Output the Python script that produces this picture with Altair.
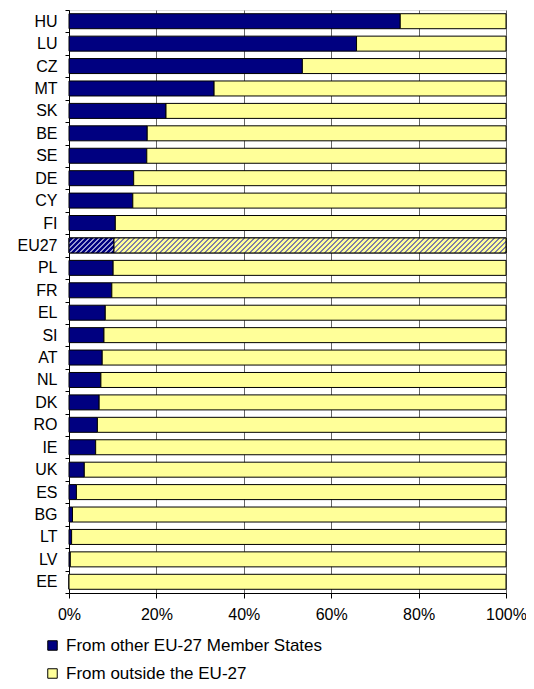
import altair as alt
import pandas as pd

countries = ["HU", "LU", "CZ", "MT", "SK", "BE", "SE", "DE", "CY", "FI", "EU27", "PL", "FR",
             "EL", "SI", "AT", "NL", "DK", "RO", "IE", "UK", "ES", "BG", "LT", "LV", "EE"]
from_eu = [75.8, 65.8, 53.4, 33.2, 22.2, 17.9, 17.8, 14.8, 14.6, 10.6, 10.3, 10.1, 9.8,
           8.3, 8.0, 7.6, 7.3, 6.9, 6.5, 6.1, 3.5, 1.7, 0.8, 0.6, 0.3, 0.0]
series = ["From other EU-27 Member States", "From outside the EU-27"]
colors = ["#000080", "#FFFF99"]
tick_values = [0, 20, 40, 60, 80, 100]
highlight = "EU27"

W, H, BAR = 437, 583, 15
FONT = "Liberation Sans"

rows = []
for c, v in zip(countries, from_eu):
    rows.append({"country": c, "series": series[0], "order": 0, "start": 0.0, "end": v})
    rows.append({"country": c, "series": series[1], "order": 1, "start": v, "end": 100.0})
df = pd.DataFrame(rows)


def hatch(width, height, bg, line, period=5.0, lw=2.0):
    total = width + height
    k = total / (width ** 2 + height ** 2)
    stops = []
    s = 0.0
    while s < total:
        a = s / total
        b = min((s + lw) / total, 1.0)
        c = min((s + period) / total, 1.0)
        stops += [(a, line), (b, line), (b, bg), (c, bg)]
        s += period
    return alt.LinearGradient(
        gradient="linear",
        stops=[alt.GradientStop(offset=o, color=col) for o, col in stops],
        x1=0, y1=0, x2=k * width, y2=k * height,
    )


eu_val = from_eu[countries.index(highlight)]
grad_blue = hatch(eu_val / 100 * W, BAR, colors[0], "#9a9ad0")
grad_yel = hatch((100 - eu_val) / 100 * W, BAR, colors[1], "#8080a8")

yscale = alt.Scale(domain=countries, paddingInner=0, paddingOuter=0)
xscale = alt.Scale(domain=[0, 100], nice=False)

xaxis = alt.Axis(values=tick_values, labelExpr="datum.value + '%'", title=None,
                 grid=True, gridColor="#666666", gridWidth=1,
                 tickSize=5, tickColor="black", domainColor="black",
                 labelPadding=8, labelFontSize=16, labelFont=FONT,
                 labelColor="black", labelFlush=False)
yaxis = alt.Axis(title=None, tickBand="extent", tickSize=4, tickColor="black",
                 domainColor="black", labelPadding=8, labelFontSize=16,
                 labelFont=FONT, labelColor="black", grid=False)

base = alt.Chart(df).mark_bar(size=BAR, stroke="black", strokeWidth=1).encode(
    x=alt.X("start:Q", scale=xscale, axis=xaxis),
    x2="end:Q",
    y=alt.Y("country:N", scale=yscale, sort=countries, axis=yaxis),
    color=alt.Color("series:N", scale=alt.Scale(domain=series, range=colors),
                    legend=alt.Legend(title=None, orient="none", legendX=-25, legendY=627,
                                      direction="vertical", symbolType="square",
                                      symbolSize=90, symbolStrokeColor="black",
                                      symbolStrokeWidth=1, labelFontSize=17,
                                      labelFont=FONT, labelColor="black", labelLimit=0,
                                      labelOffset=5, rowPadding=10, padding=0)),
    order=alt.Order("order:Q"),
)

eu_blue = alt.Chart(df).transform_filter(
    (alt.datum.country == highlight) & (alt.datum.order == 0)
).mark_bar(size=BAR, stroke="black", strokeWidth=1, fill=grad_blue).encode(
    x=alt.X("start:Q", scale=xscale, axis=xaxis),
    x2="end:Q",
    y=alt.Y("country:N", scale=yscale, sort=countries, axis=yaxis),
)

eu_yel = alt.Chart(df).transform_filter(
    (alt.datum.country == highlight) & (alt.datum.order == 1)
).mark_bar(size=BAR, stroke="black", strokeWidth=1, fill=grad_yel).encode(
    x=alt.X("start:Q", scale=xscale, axis=xaxis),
    x2="end:Q",
    y=alt.Y("country:N", scale=yscale, sort=countries, axis=yaxis),
)

chart = alt.layer(base, eu_blue, eu_yel).properties(
    width=W, height=H,
    autosize=alt.AutoSizeParams(type="none"),
    padding={"left": 61, "top": 2, "right": 20, "bottom": 88},
).configure_view(stroke="#808080", strokeWidth=1.5).configure(background="white")

chart.save("out.html", embed_options={"renderer": "svg", "actions": False})
